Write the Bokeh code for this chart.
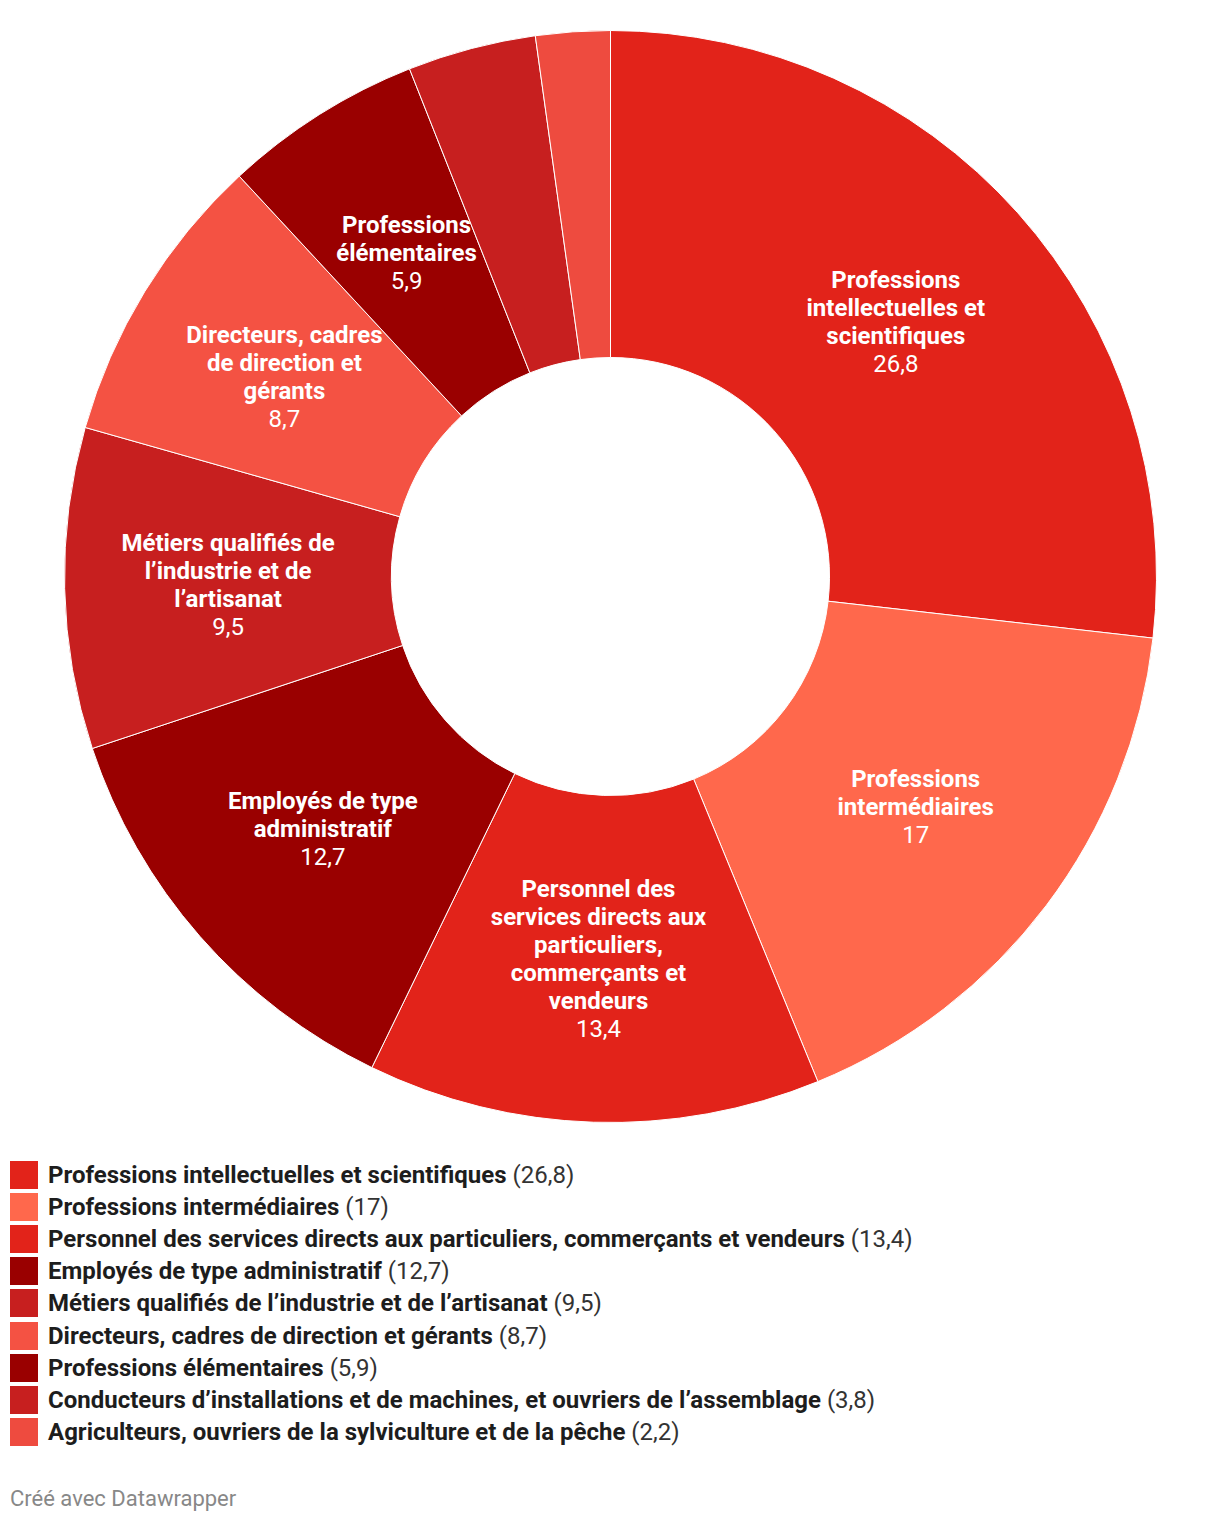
import math
from bokeh.plotting import figure
from bokeh.models import Div, ColumnDataSource
from bokeh.layouts import column
from bokeh.core.properties import value
from bokeh.embed import file_html
from bokeh.resources import INLINE

# ---- data ----
categories = [
    "Professions intellectuelles et scientifiques",
    "Professions intermédiaires",
    "Personnel des services directs aux particuliers, commerçants et vendeurs",
    "Employés de type administratif",
    "Métiers qualifiés de l’industrie et de l’artisanat",
    "Directeurs, cadres de direction et gérants",
    "Professions élémentaires",
    "Conducteurs d’installations et de machines, et ouvriers de l’assemblage",
    "Agriculteurs, ouvriers de la sylviculture et de la pêche",
]
values = [26.8, 17, 13.4, 12.7, 9.5, 8.7, 5.9, 3.8, 2.2]
colors = ["#e2231a", "#ff684c", "#e2231a", "#9a0000", "#c71f1f",
          "#f45243", "#9a0000", "#c71f1f", "#ee4b3f"]
slice_labels = [
    ["Professions", "intellectuelles et", "scientifiques"],
    ["Professions", "intermédiaires"],
    ["Personnel des", "services directs aux", "particuliers,", "commerçants et", "vendeurs"],
    ["Employés de type", "administratif"],
    ["Métiers qualifiés de", "l’industrie et de", "l’artisanat"],
    ["Directeurs, cadres", "de direction et", "gérants"],
    ["Professions", "élémentaires"],
    [],
    [],
]

def fmt(v):
    return f"{v:g}".replace(".", ",")

# ---- geometry ----
W, H = 1220, 1150
cx, cy = 610, H - 576
r_out, r_in = 546, 219
r_mid = (r_out + r_in) / 2
line_h = 27.8

total = sum(values)
starts, ends = [], []
acc = 0.0
for v in values:
    a0 = math.pi / 2 - 2 * math.pi * acc / total
    acc += v
    a1 = math.pi / 2 - 2 * math.pi * acc / total
    starts.append(a0)
    ends.append(a1)

src = ColumnDataSource(dict(x=[cx] * len(values), y=[cy] * len(values),
                            start=starts, end=ends, color=colors))

p = figure(width=W, height=H, x_range=(0, W), y_range=(0, H),
           output_backend="svg", toolbar_location=None, min_border=0)
p.axis.visible = False
p.grid.visible = False
p.outline_line_color = None
p.background_fill_color = "white"

p.annular_wedge(x="x", y="y", inner_radius=r_in, outer_radius=r_out,
                start_angle="start", end_angle="end", direction="clock",
                fill_color="color", line_color="white", line_width=1, source=src)

bx, by, bt, vx, vy, vt = [], [], [], [], [], []
for i, lines in enumerate(slice_labels):
    if not lines:
        continue
    mid = (starts[i] + ends[i]) / 2
    lx = cx + r_mid * math.cos(mid)
    ly = cy + r_mid * math.sin(mid)
    n = len(lines) + 1
    for j, t in enumerate(lines):
        bx.append(lx)
        by.append(ly - (j - (n - 1) / 2) * line_h)
        bt.append(t)
    vx.append(lx)
    vy.append(ly - (n - 1 - (n - 1) / 2) * line_h)
    vt.append(fmt(values[i]))

p.text(x=bx, y=by, text=bt, text_font=value("Roboto"), text_font_style="bold",
       text_font_size="24px", text_color="white", text_align="center",
       text_baseline="middle")
p.text(x=vx, y=vy, text=vt, text_font=value("Roboto"),
       text_font_size="24px", text_color="white", text_align="center",
       text_baseline="middle")

rows = []
for name, v, c in zip(categories, values, colors):
    rows.append(
        f'<div style="display:flex;align-items:center;height:32.1px;">'
        f'<span style="display:inline-block;flex:none;width:28px;height:28px;background:{c};'
        f'margin-left:10px;margin-right:10px;"></span>'
        f'<span style="white-space:nowrap;"><b style="color:#1d1d1d;">{name}</b>'
        f'<span style="color:#333;"> ({fmt(v)})</span></span></div>'
    )
legend = Div(text="".join(rows), width=W, margin=0,
             styles={"font-family": "Roboto", "font-size": "24px",
                     "padding-top": "9px", "line-height": "1"})
footer = Div(text="Créé avec Datawrapper", width=W, margin=0,
             styles={"font-family": "Roboto", "font-size": "22px",
                     "color": "#888", "padding-left": "10px",
                     "padding-top": "36px", "line-height": "1.2"})

layout = column(p, legend, footer, spacing=0, margin=0)
open("out.html", "w").write(file_html(layout, INLINE))
